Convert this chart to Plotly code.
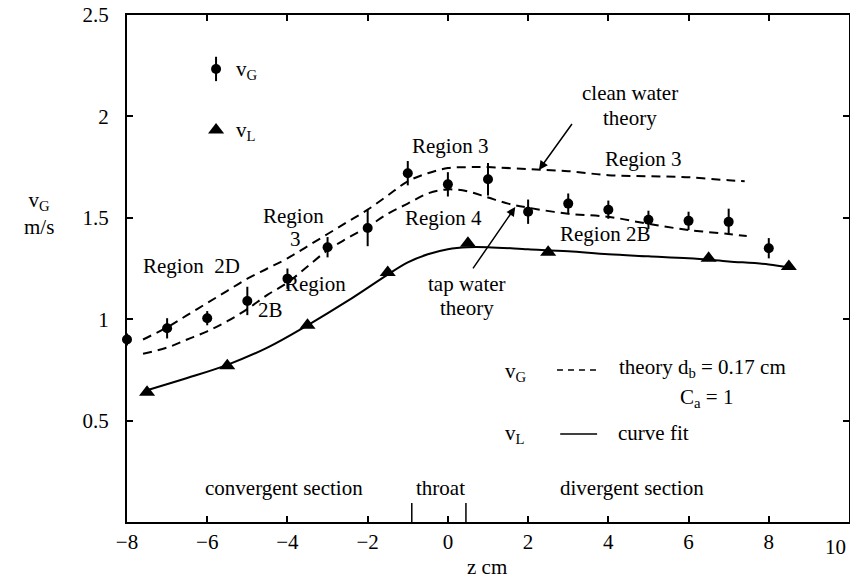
import plotly.graph_objects as go

# ---- measured data -------------------------------------------------------
# gas velocity v_G (m/s) with error bars, at axial position z (cm)
z_gas = [-8, -7, -6, -5, -4, -3, -2, -1, 0, 1, 2, 3, 4, 5, 6, 7, 8]
v_gas = [0.90, 0.955, 1.005, 1.09, 1.20, 1.355, 1.45, 1.72, 1.665, 1.69,
         1.53, 1.57, 1.54, 1.49, 1.485, 1.48, 1.35]
v_gas_err = [0.03, 0.05, 0.035, 0.07, 0.05, 0.05, 0.09, 0.06, 0.06, 0.08,
             0.06, 0.05, 0.045, 0.045, 0.045, 0.065, 0.05]

# liquid velocity v_L (m/s)
z_liq = [-7.5, -5.5, -3.5, -1.5, 0.5, 2.5, 6.5, 8.5]
v_liq = [0.64, 0.77, 0.97, 1.23, 1.375, 1.33, 1.30, 1.26]

# curve fit through the liquid velocities
z_fit = [-7.5, -6.5, -5.5, -4.5, -3.5, -2.5, -1.5, -1, -0.5, 0, 0.5, 1,
         2, 3, 4, 5, 6, 7, 8, 8.5]
v_fit = [0.65, 0.71, 0.775, 0.86, 0.97, 1.09, 1.22, 1.28, 1.32, 1.345,
         1.355, 1.355, 1.345, 1.335, 1.32, 1.31, 1.30, 1.285, 1.27, 1.255]

# theory, d_b = 0.17 cm, C_a = 1 : clean water
z_clean = [-7.6, -7, -6.5, -6, -5.5, -5, -4.5, -4, -3.5, -3, -2.5, -2,
           -1.5, -1, -0.5, 0, 0.5, 1, 2, 3, 4, 5, 6, 7, 7.4]
v_clean = [0.90, 0.96, 1.02, 1.08, 1.14, 1.20, 1.25, 1.30, 1.36, 1.42,
           1.48, 1.54, 1.61, 1.68, 1.72, 1.745, 1.75, 1.75, 1.74, 1.73,
           1.71, 1.705, 1.70, 1.685, 1.68]

# theory, d_b = 0.17 cm, C_a = 1 : tap water
z_tap = [-7.6, -7, -6.5, -6, -5.5, -5, -4.5, -4, -3.5, -3, -2.5, -2, -1.5,
         -1, -0.5, 0, 0.5, 1, 1.5, 2, 3, 4, 5, 6, 7, 7.45]
v_tap = [0.83, 0.86, 0.90, 0.94, 0.99, 1.05, 1.12, 1.18, 1.26, 1.34, 1.40,
         1.455, 1.52, 1.57, 1.62, 1.64, 1.63, 1.60, 1.57, 1.55, 1.52,
         1.505, 1.47, 1.44, 1.42, 1.41]

# axis ticks
x_ticks = [-8, -6, -4, -2, 0, 2, 4, 6, 8, 10]
x_ticktext = ["\u22128", "\u22126", "\u22124", "\u22122", "0", "2", "4", "6", "8", ""]
y_ticks = [0.5, 1, 1.5, 2, 2.5]
y_ticktext = ["0.5", "1", "1.5", "2", "2.5"]

# throat boundaries (cm)
throat_bounds = [-0.9, 0.45]

FONT = "Liberation Serif"
FS = 21
BLACK = "black"

fig = go.Figure()

fig.add_trace(go.Scatter(x=z_clean, y=v_clean, mode="lines",
                         line=dict(color=BLACK, width=2, dash="9px,6px", shape="spline")))
fig.add_trace(go.Scatter(x=z_tap, y=v_tap, mode="lines",
                         line=dict(color=BLACK, width=2, dash="9px,6px", shape="spline")))
fig.add_trace(go.Scatter(x=z_fit, y=v_fit, mode="lines",
                         line=dict(color=BLACK, width=2, shape="spline")))

fig.add_trace(go.Scatter(x=z_gas, y=v_gas, mode="markers",
                         marker=dict(symbol="circle", size=10, color=BLACK),
                         error_y=dict(type="data", array=v_gas_err, visible=True,
                                      color=BLACK, thickness=2, width=0),
                         cliponaxis=False))
fig.add_trace(go.Scatter(x=z_liq, y=v_liq, mode="markers",
                         marker=dict(symbol="triangle-up", size=14, color=BLACK),
                         cliponaxis=False))

# key symbols, top left
key_x = [-5.78]
fig.add_trace(go.Scatter(x=key_x, y=[2.234], mode="markers",
                         marker=dict(symbol="circle", size=10, color=BLACK),
                         error_y=dict(type="data", array=[0.06], visible=True,
                                      color=BLACK, thickness=2, width=0)))
fig.add_trace(go.Scatter(x=key_x, y=[1.933], mode="markers",
                         marker=dict(symbol="triangle-up", size=14, color=BLACK)))

# key lines, lower right
fig.add_trace(go.Scatter(x=[2.72, 3.74], y=[0.75, 0.75], mode="lines",
                         line=dict(color=BLACK, width=1.5, dash="6px,5px")))
fig.add_trace(go.Scatter(x=[2.8, 3.72], y=[0.434, 0.434], mode="lines",
                         line=dict(color=BLACK, width=1.5)))

for zb in throat_bounds:
    fig.add_shape(type="line", x0=zb, x1=zb, y0=0, y1=0.094,
                  xref="x", yref="y", line=dict(color=BLACK, width=1.5))


def label(x, y, text, xanchor="center", **kw):
    fig.add_annotation(x=x, y=y, text=text, showarrow=False, xanchor=xanchor,
                       yanchor="middle", font=dict(family=FONT, size=FS, color=BLACK), **kw)


label(-6.38, 1.26, "Region  2D")
label(-3.84, 1.51, "Region")
label(-3.81, 1.395, "3")
label(-3.29, 1.174, "Region")
label(-4.43, 1.045, "2B")
label(0.05, 1.854, "Region 3")
label(-0.12, 1.50, "Region 4")
label(0.48, 1.174, "tap water")
label(0.48, 1.055, "theory")
label(4.54, 2.115, "clean water")
label(4.54, 1.99, "theory")
label(4.87, 1.79, "Region 3")
label(3.92, 1.42, "Region 2B")
label(-4.08, 0.168, "convergent section")
label(-0.19, 0.168, "throat")
label(4.6, 0.168, "divergent section")

label(-5.33, 2.23, "v<sub>G</sub>", xanchor="left")
label(-5.33, 1.93, "v<sub>L</sub>", xanchor="left")
label(1.38, 0.74, "v<sub>G</sub>", xanchor="left")
label(4.22, 0.76, "theory d<sub>b</sub> = 0.17 cm", xanchor="left")
label(5.74, 0.61, "C<sub>a</sub> = 1", xanchor="left")
label(1.38, 0.435, "v<sub>L</sub>", xanchor="left")
label(4.19, 0.44, "curve fit", xanchor="left")

# arrows to the two theory curves
for hx, hy, tx, ty in [(1.68, 1.553, 0.6, 1.243), (2.27, 1.736, 3.12, 1.97)]:
    fig.add_annotation(x=hx, y=hy, ax=tx, ay=ty, xref="x", yref="y",
                       axref="x", ayref="y", text="", showarrow=True,
                       arrowhead=2, arrowsize=1.2, arrowwidth=1.5, arrowcolor=BLACK)

# axis titles and the last x tick label
fig.add_annotation(x=-0.145, y=1.52, xref="paper", yref="y",
                   text="v<sub>G</sub><br>m/s", showarrow=False,
                   font=dict(family=FONT, size=FS, color=BLACK))
fig.add_annotation(x=0.98, y=-0.089, xref="x", yref="paper", text="z cm",
                   showarrow=False, yanchor="middle",
                   font=dict(family=FONT, size=FS, color=BLACK))
fig.add_annotation(x=10, y=0, xref="x", yref="y", text="10", showarrow=False,
                   xanchor="right", yanchor="top", yshift=-11, xshift=-1,
                   font=dict(family=FONT, size=FS, color=BLACK))

axis_common = dict(showline=True, linecolor=BLACK, linewidth=2, mirror="ticks",
                   ticks="inside", ticklen=6, tickwidth=2, tickcolor=BLACK,
                   showgrid=False, zeroline=False, automargin=False,
                   tickfont=dict(family=FONT, size=FS, color=BLACK))

fig.update_layout(
    width=850, height=578,
    margin=dict(l=127, r=1, t=15, b=56),
    paper_bgcolor="white", plot_bgcolor="white",
    showlegend=False,
    xaxis=dict(range=[-8, 10], tickvals=x_ticks, ticktext=x_ticktext,
               ticklabelstandoff=0, **axis_common),
    yaxis=dict(range=[0, 2.5], tickvals=y_ticks, ticktext=y_ticktext,
               ticklabelstandoff=12, **axis_common),
)

fig.write_html("out.html")
